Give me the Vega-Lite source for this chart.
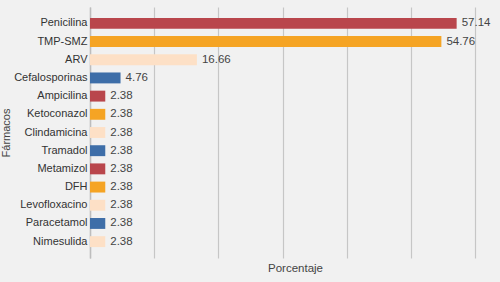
{
  "$schema": "https://vega.github.io/schema/vega-lite/v6.json",
  "autosize": "none",
  "width": 385,
  "height": 251,
  "padding": {"left": 90, "top": 7, "right": 25, "bottom": 24},
  "background": "#f1f1f1",
  "config": {
    "view": {"stroke": null},
    "font": "Liberation Sans, Arial, sans-serif"
  },
  "data": {
    "values": [
      {"farmaco": "Penicilina", "pct": 57.14, "grupo": "a"},
      {"farmaco": "TMP-SMZ", "pct": 54.76, "grupo": "b"},
      {"farmaco": "ARV", "pct": 16.66, "grupo": "c"},
      {"farmaco": "Cefalosporinas", "pct": 4.76, "grupo": "d"},
      {"farmaco": "Ampicilina", "pct": 2.38, "grupo": "a"},
      {"farmaco": "Ketoconazol", "pct": 2.38, "grupo": "b"},
      {"farmaco": "Clindamicina", "pct": 2.38, "grupo": "c"},
      {"farmaco": "Tramadol", "pct": 2.38, "grupo": "d"},
      {"farmaco": "Metamizol", "pct": 2.38, "grupo": "a"},
      {"farmaco": "DFH", "pct": 2.38, "grupo": "b"},
      {"farmaco": "Levofloxacino", "pct": 2.38, "grupo": "c"},
      {"farmaco": "Paracetamol", "pct": 2.38, "grupo": "d"},
      {"farmaco": "Nimesulida", "pct": 2.38, "grupo": "c"}
    ]
  },
  "encoding": {
    "y": {
      "field": "farmaco",
      "type": "nominal",
      "sort": null,
      "scale": {"paddingInner": 0.4, "paddingOuter": 0.6},
      "axis": {
        "title": "Fármacos",
        "titleFontSize": 11,
        "titleFontWeight": "normal",
        "titleColor": "#444444",
        "titlePadding": 2,
        "labelFontSize": 11,
        "labelColor": "#333333",
        "labelPadding": 3,
        "ticks": false,
        "domainColor": "#bdbdbd",
        "domainWidth": 1.5
      }
    },
    "x": {
      "field": "pct",
      "type": "quantitative",
      "scale": {"domain": [0, 60], "nice": false},
      "axis": {
        "title": "Porcentaje",
        "titleFontSize": 11.5,
        "titleFontWeight": "normal",
        "titleColor": "#444444",
        "titleX": 205,
        "titlePadding": 4,
        "labels": false,
        "ticks": false,
        "domain": false,
        "values": [0, 10, 20, 30, 40, 50, 60],
        "gridColor": "#c6c6c6",
        "gridWidth": 1.2
      }
    }
  },
  "layer": [
    {
      "mark": {"type": "bar"},
      "encoding": {
        "color": {
          "field": "grupo",
          "type": "nominal",
          "scale": {"domain": ["a", "b", "c", "d"], "range": ["#b9464c", "#f5a424", "#fde0c6", "#3e6ea8"]},
          "legend": null
        }
      }
    },
    {
      "mark": {"type": "text", "align": "left", "dx": 5, "fontSize": 11.5, "color": "#444444"},
      "encoding": {
        "text": {"field": "pct", "type": "quantitative", "format": ".2f"}
      }
    }
  ]
}
